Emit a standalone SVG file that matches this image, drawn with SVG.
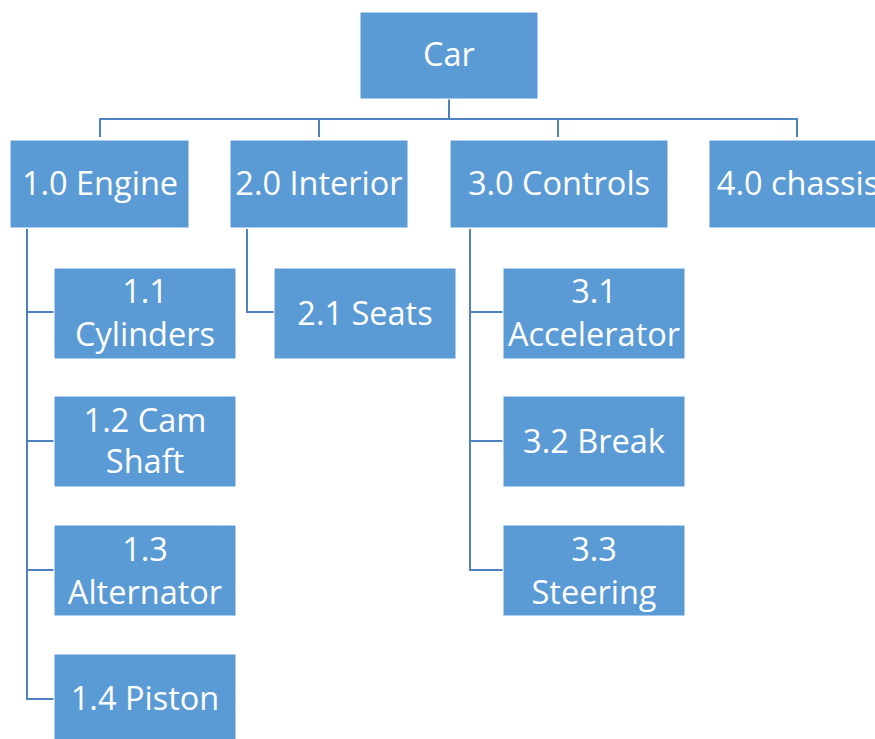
<svg xmlns="http://www.w3.org/2000/svg" width="875" height="739" viewBox="0 0 875 739">
<style>
.box{fill:#5b9bd5;stroke:#ffffff;stroke-width:1}
.t{font-family:"Open Sans","Liberation Sans",sans-serif;font-size:32.5px;fill:#ffffff;text-anchor:middle}
.c{fill:none;stroke:#4f81bd;stroke-width:2}
</style>
<rect width="875" height="739" fill="#ffffff"/>
<g id="connectors">
<path class="c" d="M449 99V119M100 137V119H797V137M319 119V137M558 119V137"/>
<path class="c" d="M27 229V699H54M27 312H54M27 441H54M27 570H54"/>
<path class="c" d="M247 229V312H274"/>
<path class="c" d="M470 229V570H503M470 312H503M470 441H503"/>
</g>
<g id="car"><rect class="box" x="360" y="12" width="178" height="87"/><text class="t" x="449" y="66">Car</text></g>
<g id="engine"><rect class="box" x="10" y="140" width="179" height="88"/><text class="t" x="100" y="195">1.0 Engine</text></g>
<g id="interior"><rect class="box" x="230" y="140" width="178" height="88"/><text class="t" x="319" y="195">2.0 Interior</text></g>
<g id="controls"><rect class="box" x="450" y="140" width="218" height="88"/><text class="t" x="559" y="195">3.0 Controls</text></g>
<g id="chassis"><rect class="box" x="709" y="140" width="179" height="88"/><text class="t" x="798" y="195">4.0 chassis</text></g>
<g id="cylinders"><rect class="box" x="54" y="268" width="182" height="91"/><text class="t" x="145" y="303">1.1</text><text class="t" x="145" y="346">Cylinders</text></g>
<g id="camshaft"><rect class="box" x="54" y="396" width="182" height="91"/><text class="t" x="145" y="432">1.2 Cam</text><text class="t" x="145" y="473">Shaft</text></g>
<g id="alternator"><rect class="box" x="54" y="525" width="182" height="91"/><text class="t" x="145" y="561">1.3</text><text class="t" x="145" y="604">Alternator</text></g>
<g id="piston"><rect class="box" x="54" y="654" width="182" height="88"/><text class="t" x="145" y="710">1.4 Piston</text></g>
<g id="seats"><rect class="box" x="274" y="268" width="182" height="91"/><text class="t" x="365" y="325">2.1 Seats</text></g>
<g id="accelerator"><rect class="box" x="503" y="268" width="182" height="91"/><text class="t" x="594" y="303">3.1</text><text class="t" x="594" y="346">Accelerator</text></g>
<g id="break"><rect class="box" x="503" y="396" width="182" height="91"/><text class="t" x="594" y="453">3.2 Break</text></g>
<g id="steering"><rect class="box" x="503" y="525" width="182" height="91"/><text class="t" x="594" y="561">3.3</text><text class="t" x="594" y="604">Steering</text></g>
</svg>
